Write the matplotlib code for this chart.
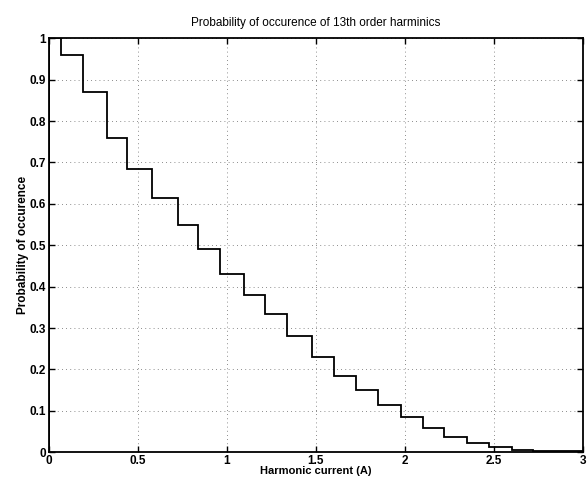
import numpy as np
import matplotlib
matplotlib.use("Agg")
import matplotlib.pyplot as plt

plt.rcParams["font.family"] = ["Liberation Sans", "DejaVu Sans"]

# step edges (A) and probability level held on each interval
current_edges = [0, 0.067, 0.19, 0.33, 0.44, 0.58, 0.725, 0.84, 0.96, 1.095, 1.213,
                 1.337, 1.48, 1.6, 1.725, 1.85, 1.98, 2.10, 2.22, 2.35, 2.47, 2.6, 2.72, 3.0]
probability = [1.0, 0.96, 0.87, 0.76, 0.685, 0.615, 0.55, 0.49, 0.43, 0.38, 0.335,
               0.28, 0.23, 0.185, 0.15, 0.113, 0.085, 0.058, 0.036, 0.022, 0.012, 0.006, 0.002]
x_ticks = [0, 0.5, 1, 1.5, 2, 2.5, 3]
y_ticks = [0, 0.1, 0.2, 0.3, 0.4, 0.5, 0.6, 0.7, 0.8, 0.9, 1]
y_labels = ["0", "0.1", "0.2", "0.3", "0.4", "0.5", "0.6", "0.7", "0.8", "0.9", "1"]

fig = plt.figure(figsize=(5.87, 4.78), dpi=100)
ax = fig.add_axes([0.083, 0.054, 0.910, 0.866])

ax.stairs(probability, current_edges, color="black", linewidth=1.3)

ax.set_xlim(0, 3)
ax.set_ylim(0, 1)
ax.set_xticks(x_ticks)
ax.set_xticklabels([f"{t:g}" for t in x_ticks])
ax.set_yticks(y_ticks)
ax.set_yticklabels(y_labels)
ax.tick_params(direction="in", top=True, right=True, length=4, width=1,
               labelsize=8.5, pad=2)
for lab in ax.get_xticklabels() + ax.get_yticklabels():
    lab.set_fontweight("bold")
ax.grid(True, linestyle=(0, (1, 4)), color="black", linewidth=0.6, alpha=0.6)
for s in ax.spines.values():
    s.set_linewidth(1.3)

ax.set_title("Probability of occurence of 13th order harminics", fontsize=8.5, pad=9)
ax.set_xlabel("Harmonic current (A)", fontsize=8, fontweight="bold", labelpad=-1)
ax.set_ylabel("Probability of occurence", fontsize=8.5, fontweight="bold", labelpad=0)

fig.savefig("out.png", dpi=100)
